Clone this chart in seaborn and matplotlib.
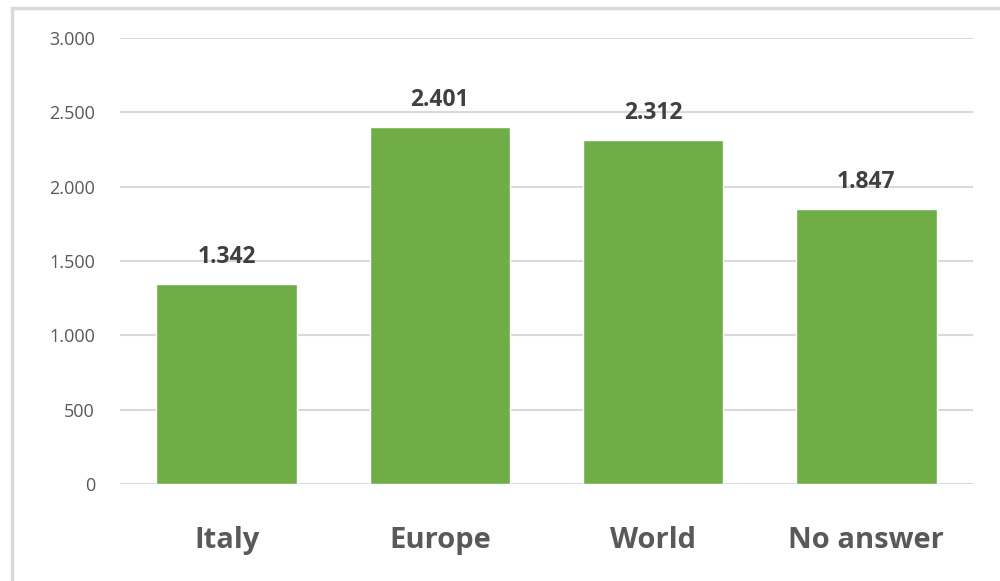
import seaborn as sns
import matplotlib.pyplot as plt
import pandas as pd
from matplotlib.patches import Rectangle
from matplotlib.ticker import FuncFormatter

categories = ['Italy', 'Europe', 'World', 'No answer']
values = [1342, 2401, 2312, 1847]

df = pd.DataFrame({'region': categories, 'count': values})

sns.set_style('white')
plt.rcParams['font.family'] = ['Open Sans', 'DejaVu Sans']

fig = plt.figure(figsize=(10, 5.81), dpi=100)
ax = fig.add_axes([0.12, 1 - 484 / 581, 0.853, (484 - 38) / 581])

sns.barplot(data=df, x='region', y='count', color='#70AD47', width=0.66,
            saturation=1, ax=ax, zorder=3)

ax.set_ylim(0, 3000)
ax.set_xlim(-0.5, 3.5)
ax.set_yticks(range(0, 3001, 500))
ax.yaxis.set_major_formatter(FuncFormatter(lambda v, p: f'{int(v):,}'.replace(',', '.')))
ax.grid(axis='y', color='#D9D9D9', linewidth=1.5, zorder=0)
for s in ax.spines.values():
    s.set_visible(False)
ax.tick_params(axis='y', length=0, labelsize=13, labelcolor='#595959', pad=18)
ax.tick_params(axis='x', length=0, labelsize=21, labelcolor='#595959', pad=30)
for lab in ax.get_xticklabels():
    lab.set_fontweight('bold')
ax.set_xlabel('')
ax.set_ylabel('')

for c in ax.containers:
    ax.bar_label(c, labels=[f'{v:,}'.replace(',', '.') for v in values],
                 padding=11, fontsize=16.5, fontweight='bold', color='#404040')

# outer chart frame
fig.patches.append(Rectangle((0.012, -0.1), 1.2, 1.1 - 8 / 581, transform=fig.transFigure,
                             fill=False, edgecolor='#D9D9D9', linewidth=2.5))

fig.savefig('out.png', dpi=100)
